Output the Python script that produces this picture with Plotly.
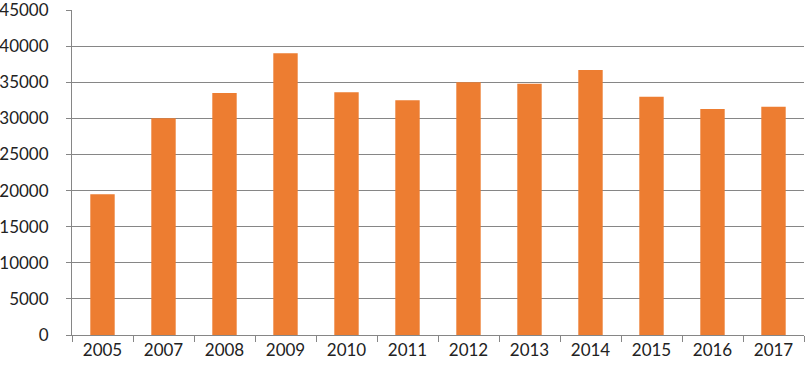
import plotly.graph_objects as go

years = ["2005", "2007", "2008", "2009", "2010", "2011", "2012", "2013", "2014", "2015", "2016", "2017"]
values = [19500, 30000, 33500, 39000, 33600, 32500, 35000, 34800, 36700, 33000, 31300, 31600]
y_ticks = [0, 5000, 10000, 15000, 20000, 25000, 30000, 35000, 40000, 45000]

fig = go.Figure(go.Bar(x=years, y=values, marker=dict(color="#ED7D31", line=dict(width=0))))

fig.update_layout(
    width=807, height=368,
    margin=dict(l=72, r=3, t=10, b=33),
    paper_bgcolor="white", plot_bgcolor="white",
    bargap=0.6,
    showlegend=False,
    font=dict(family="Lato, Carlito, sans-serif", size=17, color="#222222"),
)
fig.update_xaxes(
    type="category", tickson="boundaries", ticks="outside", ticklen=6,
    tickcolor="#868686", showline=True, linecolor="#868686", linewidth=1,
    showgrid=False, tickfont=dict(size=17), automargin=False,
)
fig.update_yaxes(
    range=[0, 45000], tickvals=y_ticks, tickformat="d", ticks="outside", ticklen=5,
    tickcolor="#868686", showline=True, linecolor="#868686", linewidth=1,
    showgrid=True, gridcolor="#868686", gridwidth=1, zeroline=False,
    tickfont=dict(size=17), ticklabelstandoff=14, automargin=False,
    ticklabeloverflow="allow",
)

fig.write_html("out.html", config={"displayModeBar": False},
               post_script="document.body.style.margin='0';")
